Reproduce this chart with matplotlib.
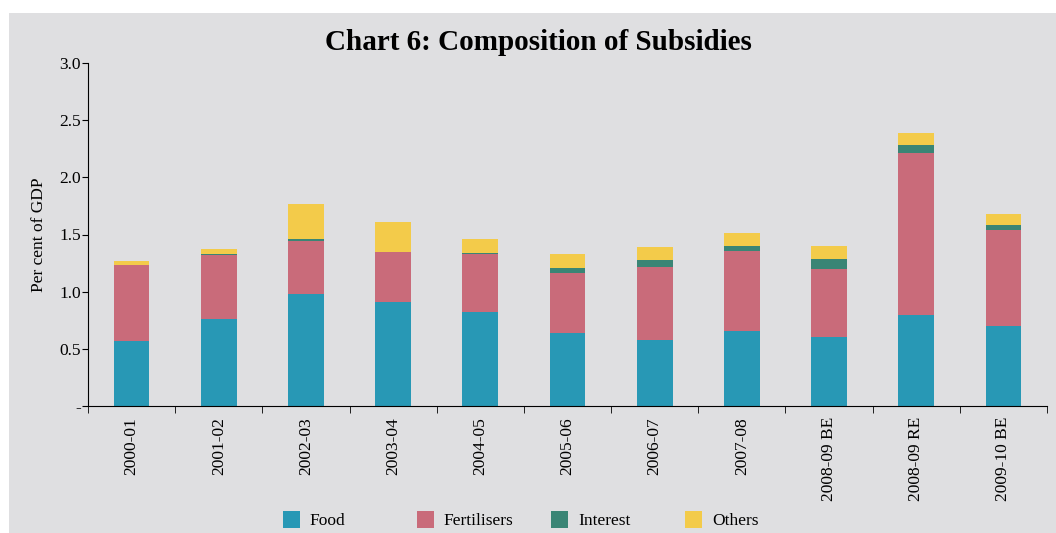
import numpy as np
import matplotlib.pyplot as plt
from matplotlib.patches import Rectangle

years = ["2000-01", "2001-02", "2002-03", "2003-04", "2004-05", "2005-06",
         "2006-07", "2007-08", "2008-09 BE", "2008-09 RE", "2009-10 BE"]
food = [0.57, 0.76, 0.98, 0.91, 0.82, 0.64, 0.58, 0.66, 0.60, 0.80, 0.70]
fertilisers = [0.66, 0.56, 0.46, 0.44, 0.51, 0.52, 0.64, 0.70, 0.60, 1.41, 0.84]
interest = [0.00, 0.01, 0.02, 0.00, 0.01, 0.05, 0.06, 0.04, 0.09, 0.07, 0.04]
others = [0.04, 0.04, 0.31, 0.26, 0.12, 0.12, 0.11, 0.11, 0.11, 0.11, 0.10]

series = [("Food", food, "#2898b5"),
          ("Fertilisers", fertilisers, "#c96b7a"),
          ("Interest", interest, "#3a8575"),
          ("Others", others, "#f3cb4a")]

plt.rcParams['font.family'] = ['Liberation Serif', 'DejaVu Serif']
bg = "#dfdfe1"

fig = plt.figure(figsize=(10.56, 5.33), dpi=100)
fig.patch.set_facecolor("white")
# grey panel behind the chart
fig.patches.append(Rectangle((9 / 1056, 0), 1 - 9 / 1056, 1 - 13 / 533,
                             transform=fig.transFigure, facecolor=bg,
                             edgecolor="none", zorder=-5))

ax = fig.add_axes([88 / 1056, 127 / 533, 959 / 1056, 343 / 533])
ax.set_facecolor(bg)
ax.set_zorder(2)

x = np.arange(len(years))
bottom = np.zeros(len(years))
handles = []
for name, vals, col in series:
    b = ax.bar(x, vals, 0.41, bottom=bottom, color=col, label=name, edgecolor="none")
    handles.append(b)
    bottom += np.array(vals)

ax.set_xlim(-0.5, len(years) - 0.5)
ax.set_ylim(0, 3.0)
ax.set_yticks([0, 0.5, 1.0, 1.5, 2.0, 2.5, 3.0])
ax.set_yticklabels(["-", "0.5", "1.0", "1.5", "2.0", "2.5", "3.0"], fontsize=12.5)
ax.set_xticks(x)
ax.set_xticklabels(years, rotation=90, fontsize=12.5)
ax.tick_params(axis="x", length=0, pad=8)
ax.set_xticks(np.arange(len(years) + 1) - 0.5, minor=True)
ax.tick_params(axis="x", which="minor", length=5, direction="out")
ax.tick_params(axis="y", length=4, direction="out", pad=1)
for s in ["top", "right"]:
    ax.spines[s].set_visible(False)
ax.set_ylabel("Per cent of GDP", fontsize=12.5, labelpad=9)

fig.text(0.51, 0.92, "Chart 6: Composition of Subsidies", ha="center",
         va="center", fontsize=21, fontweight="bold")

# legend entries at fixed spacing, like the original
leg_x = [283, 417, 551, 685]
for h, (name, _, _), lx in zip(handles, series, leg_x):
    leg = fig.legend([h], [name], loc="center left",
                     bbox_to_anchor=(lx / 1056, 1 - 520 / 533), frameon=False,
                     fontsize=12.5, handlelength=1.0, handleheight=1.1,
                     handletextpad=0.55, borderpad=0, borderaxespad=0)

plt.savefig("out.png", dpi=100, facecolor="white")
